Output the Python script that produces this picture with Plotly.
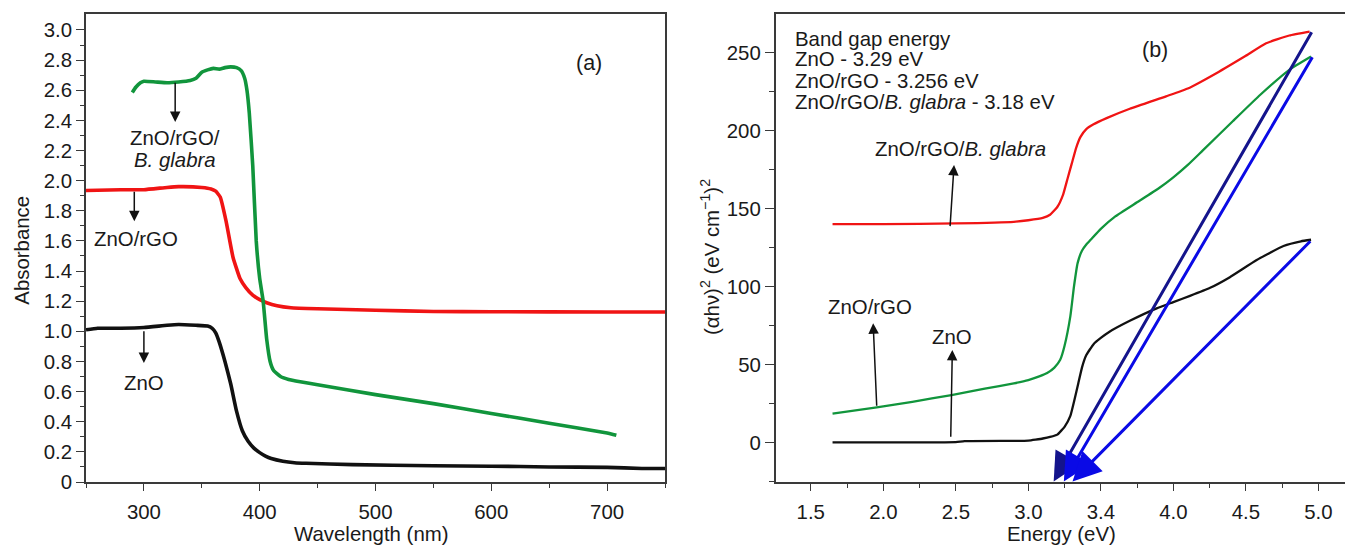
import plotly.graph_objects as go

# ---------------- Panel (a): absorbance ----------------
wl_zno = [250, 260, 280, 300, 320, 330, 345, 355, 359, 362, 365, 370, 375, 380, 385, 390, 395, 400, 405, 410,
          420, 430, 440, 480, 550, 600, 650, 700, 730, 750]
abs_zno = [1.01, 1.02, 1.02, 1.025, 1.04, 1.045, 1.04, 1.035, 1.02, 0.99, 0.93, 0.80, 0.65, 0.47, 0.34, 0.27,
           0.225, 0.195, 0.172, 0.156, 0.138, 0.128, 0.124, 0.115, 0.108, 0.105, 0.10, 0.097, 0.09, 0.09]

wl_rgo = [250, 280, 300, 320, 330, 350, 358, 362, 366, 371, 377, 383, 388, 394, 400, 406, 415, 427, 450, 500,
          550, 600, 700, 750]
abs_rgo = [1.935, 1.94, 1.94, 1.955, 1.96, 1.955, 1.945, 1.93, 1.89, 1.73, 1.49, 1.35, 1.29, 1.24, 1.21, 1.19,
           1.17, 1.157, 1.15, 1.14, 1.132, 1.13, 1.128, 1.128]

wl_bg = [290, 293, 297, 300, 310, 320, 330, 340, 345, 350, 355, 360, 365, 370, 375, 380, 384, 387, 389, 391,
         394, 397, 400, 403, 406, 409, 412, 418, 425, 435, 450, 500, 550, 600, 650, 700, 708]
abs_bg = [2.585, 2.62, 2.65, 2.66, 2.655, 2.65, 2.655, 2.665, 2.68, 2.72, 2.735, 2.745, 2.74, 2.75, 2.755, 2.75,
          2.73, 2.68, 2.6, 2.45, 2.1, 1.6, 1.35, 1.2, 0.95, 0.8, 0.74, 0.70, 0.68, 0.665, 0.645, 0.58, 0.52,
          0.455, 0.39, 0.325, 0.31]

a_xticks = [300, 400, 500, 600, 700]
a_xminor = [250, 350, 450, 550, 650, 750]
a_yticks = [0, 0.2, 0.4, 0.6, 0.8, 1.0, 1.2, 1.4, 1.6, 1.8, 2.0, 2.2, 2.4, 2.6, 2.8, 3.0]
a_yticktext = ["0", "0.2", "0.4", "0.6", "0.8", "1.0", "1.2", "1.4", "1.6", "1.8", "2.0", "2.2", "2.4",
               "2.6", "2.8", "3.0"]
a_yminor = [0.1, 0.3, 0.5, 0.7, 0.9, 1.1, 1.3, 1.5, 1.7, 1.9, 2.1, 2.3, 2.5, 2.7, 2.9]

# ---------------- Panel (b): Tauc plot ----------------
e_zno = [1.65, 2.0, 2.5, 2.56, 2.9, 3.0, 3.05, 3.1, 3.15, 3.2, 3.25, 3.29, 3.32, 3.345, 3.37, 3.4, 3.45, 3.5,
         3.56, 3.7, 3.885, 4.0, 4.115, 4.25, 4.39, 4.575, 4.76, 4.88, 4.95]
t_zno = [0, 0, 0.2, 0.8, 1.0, 1.2, 1.8, 2.5, 3.5, 5, 10, 17, 28, 38, 48, 56, 63, 67, 71, 78, 86, 90, 94,
         99, 106, 117, 126, 129, 130]

e_rgo = [1.65, 1.955, 2.2, 2.47, 2.7, 2.9, 3.0, 3.08, 3.13, 3.18, 3.22, 3.25, 3.29, 3.315, 3.34, 3.37, 3.4,
         3.43, 3.5, 3.6, 3.75, 3.9, 4.0, 4.1, 4.2, 4.41, 4.6, 4.8, 4.95]
t_rgo = [18.5, 22.5, 26, 30.4, 34.5, 37.9, 40, 42.5, 44.5, 48, 53, 62, 81, 100, 115, 123, 127, 130, 137, 145,
         154, 163, 170, 178, 187, 206, 223, 239, 247.5]

e_bg = [1.65, 2.0, 2.5, 2.9, 3.0, 3.1, 3.15, 3.2, 3.24, 3.27, 3.3, 3.33, 3.36, 3.4, 3.45, 3.54, 3.7, 3.95, 4.1,
        4.3, 4.5, 4.64, 4.8, 4.94]
t_bg = [140, 140, 140.5, 141.5, 142.5, 144, 146, 151, 159, 169, 179, 189, 196, 201, 204, 208, 214, 222, 227,
        237, 248, 256, 261, 263.5]

# extrapolation arrows: (start energy, start value) -> (end energy, end value)
fit_start_e = [4.96, 4.965, 4.955]
fit_start_v = [264, 248, 130]
fit_end_e = [3.175, 3.245, 3.305]
fit_end_v = [-25, -25, -25]
fit_colors = ["#14148c", "#0a0ae6", "#0a0ae6"]

b_xticks = [1.5, 2.0, 2.5, 3.0, 3.5, 4.0, 4.5, 5.0]
b_xticktext = ["1.5", "2.0", "2.5", "3.0", "3.4", "4.0", "4.5", "5.0"]
b_xminor = [1.75, 2.25, 2.75, 3.25, 3.75, 4.25, 4.75]
b_yticks = [0, 50, 100, 150, 200, 250]
b_yminor = [-25, 25, 75, 125, 175, 225]

W, H = 1345, 546
ML, MR, MT, MB = 0, 0, 14, 64
FONT = "Arial, 'Liberation Sans', Helvetica, sans-serif"
FS = 20.4
AX = "#3a3a3a"
TXT = "#1a1a1a"

RED = "#f01414"
GREEN = "#11953c"
BLACK = "#111111"

fig = go.Figure()
lw_a = 3.6
sm = 0.4
fig.add_trace(go.Scatter(x=wl_zno, y=abs_zno, mode="lines", line=dict(color=BLACK, width=lw_a, shape="spline", smoothing=sm),
                         xaxis="x", yaxis="y", showlegend=False))
fig.add_trace(go.Scatter(x=wl_rgo, y=abs_rgo, mode="lines", line=dict(color=RED, width=lw_a, shape="spline", smoothing=sm),
                         xaxis="x", yaxis="y", showlegend=False))
fig.add_trace(go.Scatter(x=wl_bg, y=abs_bg, mode="lines", line=dict(color=GREEN, width=lw_a, shape="spline", smoothing=sm),
                         xaxis="x", yaxis="y", showlegend=False))

lw_b = 2.3
fig.add_trace(go.Scatter(x=e_zno, y=t_zno, mode="lines", line=dict(color=BLACK, width=lw_b, shape="spline", smoothing=sm),
                         xaxis="x2", yaxis="y2", showlegend=False))
fig.add_trace(go.Scatter(x=e_rgo, y=t_rgo, mode="lines", line=dict(color=GREEN, width=lw_b, shape="spline", smoothing=sm),
                         xaxis="x2", yaxis="y2", showlegend=False))
fig.add_trace(go.Scatter(x=e_bg, y=t_bg, mode="lines", line=dict(color=RED, width=lw_b, shape="spline", smoothing=sm),
                         xaxis="x2", yaxis="y2", showlegend=False))

plot_h = H - MT - MB


def px_x(p):
    return p / W


def px_y(p):
    return (H - MB - p) / plot_h


def axis_common():
    return dict(showline=True, linecolor=AX, linewidth=1.6, ticks="outside", tickcolor=AX, tickwidth=1.4,
                showgrid=False, zeroline=False, mirror=True,
                tickfont=dict(family=FONT, size=FS, color=TXT))


xa = axis_common()
xa.update(domain=[px_x(86), px_x(665)], range=[250, 750], tickvals=a_xticks, ticklen=7,
          minor=dict(tickvals=a_xminor, ticklen=4, ticks="outside", tickcolor=AX, tickwidth=1.4),
          anchor="y", ticklabelstandoff=4)
ya = axis_common()
ya.update(domain=[0, 1], range=[0, 3.106], tickvals=a_yticks, ticktext=a_yticktext, ticklen=8,
          minor=dict(tickvals=a_yminor, ticklen=4, ticks="outside", tickcolor=AX, tickwidth=1.4),
          anchor="x")
xb = axis_common()
xb.update(domain=[px_x(775.7), 1.0], range=[1.258, 5.184], tickvals=b_xticks, ticktext=b_xticktext, ticklen=7,
          minor=dict(tickvals=b_xminor, ticklen=4, ticks="outside", tickcolor=AX, tickwidth=1.4),
          anchor="y2", ticklabelstandoff=4)
yb = axis_common()
yb.update(domain=[0, 1], range=[-25.4, 274.8], tickvals=b_yticks, ticklen=9, mirror=False,
          minor=dict(tickvals=b_yminor, ticklen=5, ticks="outside", tickcolor=AX, tickwidth=1.4),
          anchor="x2")

annotations = []


def txt(x, y, s, xref="x", yref="y", xanchor="center", size=FS, angle=0):
    annotations.append(dict(x=x, y=y, xref=xref, yref=yref, text=s, showarrow=False, xanchor=xanchor,
                            yanchor="middle", textangle=angle,
                            font=dict(family=FONT, size=size, color=TXT)))


def arrow(x0, y0, x1, y1, xref, yref, color="#111111", width=1.5, head=2, size=1.4):
    annotations.append(dict(x=x1, y=y1, ax=x0, ay=y0, xref=xref, yref=yref, axref=xref, ayref=yref,
                            text="", showarrow=True, arrowhead=head, arrowsize=size, arrowwidth=width,
                            arrowcolor=color, standoff=0, startstandoff=0))


# panel (a) labels
txt(684, 2.78, "(a)", size=21.5)
txt(327, 2.28, "ZnO/rGO/")
txt(327, 2.14, "<i>B. glabra</i>")
arrow(327, 2.66, 327, 2.39, "x", "y")
txt(293.5, 1.61, "ZnO/rGO")
arrow(291.7, 1.936, 291.7, 1.73, "x", "y")
txt(300, 0.66, "ZnO")
arrow(300, 1.01, 300, 0.79, "x", "y")

# panel (b) labels
txt(3.874, 251.7, "(b)", "x2", "y2", size=21.5)
txt(1.375, 258.8, "Band gap energy", "x2", "y2", xanchor="left")
txt(1.375, 246.0, "ZnO - 3.29 eV", "x2", "y2", xanchor="left")
txt(1.375, 231.9, "ZnO/rGO - 3.256 eV", "x2", "y2", xanchor="left")
txt(1.375, 218.4, "ZnO/rGO/<i>B. glabra</i> - 3.18 eV", "x2", "y2", xanchor="left")
txt(2.535, 188, "ZnO/rGO/<i>B. glabra</i>", "x2", "y2")
arrow(2.46, 137.8, 2.488, 178, "x2", "y2")
txt(1.908, 87, "ZnO/rGO", "x2", "y2")
arrow(1.955, 22.5, 1.93, 76.4, "x2", "y2")
txt(2.472, 67.8, "ZnO", "x2", "y2")
arrow(2.465, 2.6, 2.476, 59.3, "x2", "y2")

for se, sv, ee, ev, c in zip(fit_start_e, fit_start_v, fit_end_e, fit_end_v, fit_colors):
    arrow(se, sv, ee, ev, "x2", "y2", color=c, width=3, head=2, size=1.9)

# axis titles
txt(px_x(21.7), px_y(250), "Absorbance", "paper", "paper", angle=-90)
txt(px_x(371), px_y(534), "Wavelength (nm)", "paper", "paper")
txt(px_x(1061), px_y(534), "Energy (eV)", "paper", "paper")
txt(px_x(710), px_y(257), "(αhν)<sup>2</sup> (eV cm<sup>−1</sup>)<sup>2</sup>", "paper", "paper", angle=-90)

fig.update_layout(width=W, height=H, margin=dict(l=ML, r=MR, t=MT, b=MB, pad=0),
                  paper_bgcolor="white", plot_bgcolor="white",
                  xaxis=xa, yaxis=ya, xaxis2=xb, yaxis2=yb,
                  annotations=annotations, showlegend=False)

fig.write_html("out.html", config=dict(displayModeBar=False))
